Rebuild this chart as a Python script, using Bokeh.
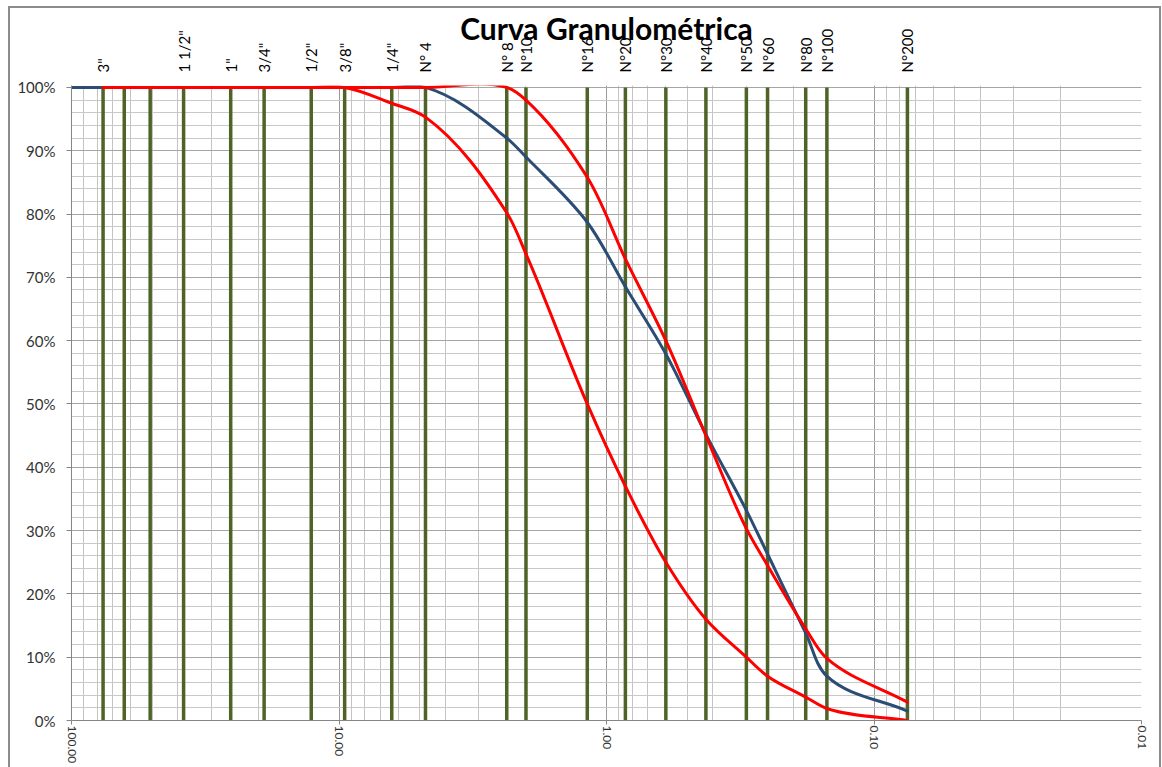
import numpy as np
from bokeh.plotting import figure
from bokeh.models import (Range1d, FixedTicker, LogAxis, PrintfTickFormatter,
                          NumeralTickFormatter, ColumnDataSource)
from bokeh.embed import file_html
from bokeh.resources import INLINE

# ---- data -------------------------------------------------------------
sieve_mm = [76.2, 63.5, 50.8, 38.1, 25.4, 19.05, 12.7, 9.525, 6.35, 4.75,
            2.36, 2.0, 1.18, 0.85, 0.6, 0.425, 0.3, 0.25, 0.18, 0.15, 0.075]
sieve_labels = ['3"', '', '', '1 1/2"', '1"', '3/4"', '1/2"', '3/8"', '1/4"', 'N° 4',
                'N° 8', 'N°10', 'N°16', 'N°20', 'N°30', 'N°40', 'N°50', 'N°60',
                'N°80', 'N°100', 'N°200']

sample_mm = [100.0, 76.2, 63.5, 50.8, 38.1, 25.4, 19.05, 12.7, 9.525, 6.35, 4.75,
             2.36, 2.0, 1.18, 0.85, 0.6, 0.425, 0.3, 0.25, 0.18, 0.15, 0.075]
sample_pct = [100, 100, 100, 100, 100, 100, 100, 100, 100, 100, 100,
              92, 89, 78.7, 68.5, 57.9, 45.2, 33.2, 26.3, 13.8, 7.0, 1.5]

limit_mm = sieve_mm
upper_pct = [100, 100, 100, 100, 100, 100, 100, 100, 100, 100,
             100, 98, 85.8, 72.9, 60, 45, 30.3, 24.5, 14.5, 9.8, 2.9]
lower_pct = [100, 100, 100, 100, 100, 100, 100, 100, 97.5, 95.3,
             80.2, 73.7, 50, 37, 25, 16, 10, 7, 3.7, 1.9, 0]

decades = [100, 10, 1, 0.1, 0.01]
pct_ticks = [0, 0.1, 0.2, 0.3, 0.4, 0.5, 0.6, 0.7, 0.8, 0.9, 1.0]

FONT = "Lato"
PX_DECADE = 267.5   # approx. screen pixels per decade (for smoothing only)
PX_UNIT = 633.0     # approx. screen pixels per 100 %


def smooth_segments(xs, ys):
    """Smoothed line as cubic Bezier segments: tangent = bisector of the
    neighbouring chords, control distance = 1/3 of the segment length."""
    sx = np.log10(np.asarray(xs, dtype=float)) * PX_DECADE
    sy = np.asarray(ys, dtype=float) / 100.0 * PX_UNIT
    P = np.column_stack([sx, sy])
    n = len(P)
    units = []
    for i in range(n - 1):
        v = P[i + 1] - P[i]
        L = np.hypot(*v)
        units.append(v / L if L > 0 else np.zeros(2))
    T = []
    for i in range(n):
        if i == 0:
            t = units[0]
        elif i == n - 1:
            t = units[-1]
        else:
            t = units[i - 1] + units[i]
        L = np.hypot(*t)
        T.append(t / L if L > 0 else np.zeros(2))
    d = dict(x0=[], y0=[], x1=[], y1=[], cx0=[], cy0=[], cx1=[], cy1=[])
    for i in range(n - 1):
        p1, p2 = P[i], P[i + 1]
        L = np.hypot(*(p2 - p1)) / 3.0
        c1 = p1 + T[i] * L
        c2 = p2 - T[i + 1] * L
        d["x0"].append(10 ** (p1[0] / PX_DECADE)); d["y0"].append(p1[1] / PX_UNIT)
        d["x1"].append(10 ** (p2[0] / PX_DECADE)); d["y1"].append(p2[1] / PX_UNIT)
        d["cx0"].append(10 ** (c1[0] / PX_DECADE)); d["cy0"].append(c1[1] / PX_UNIT)
        d["cx1"].append(10 ** (c2[0] / PX_DECADE)); d["cy1"].append(c2[1] / PX_UNIT)
    return ColumnDataSource(d)


p = figure(width=1162, height=767, x_axis_type="log",
           x_range=Range1d(100, 0.01), y_range=Range1d(0, 1.003),
           output_backend="svg", toolbar_location=None,
           min_border_left=71, min_border_right=21, min_border_top=85,
           min_border_bottom=47)
p.outline_line_color = None
p.background_fill_color = "white"
p.border_fill_color = "white"
p.border_fill_alpha = 0.0
# chart-area border (outside the plot frame), drawn as CSS background lines
p.styles = {
    "background-color": "white",
    "background-image": ("linear-gradient(#8C8C8C,#8C8C8C), "
                         "linear-gradient(#8C8C8C,#8C8C8C), "
                         "linear-gradient(#8C8C8C,#8C8C8C)"),
    "background-size": "1153px 2px, 2px 770px, 2px 770px",
    "background-position": "8px 6px, 8px 6px, 1159px 6px",
    "background-repeat": "no-repeat",
}

# x axis (bottom)
p.xaxis.ticker = FixedTicker(ticks=decades,
                             minor_ticks=[m * d for d in [10, 1, 0.1, 0.01] for m in range(2, 10)])
p.xaxis.formatter = PrintfTickFormatter(format="%.2f")
p.xaxis.major_label_orientation = "vertical"
p.xaxis.major_label_text_font = FONT
p.xaxis.major_label_text_font_size = "12px"
p.xaxis.major_label_text_color = "#333333"
p.xaxis.major_tick_out = 4
p.xaxis.major_tick_in = 0
p.xaxis.minor_tick_out = 0
p.xaxis.minor_tick_in = 0
p.xaxis.major_label_standoff = 1
p.xaxis.axis_line_color = "#868686"
p.xaxis.major_tick_line_color = "#868686"

# y axis
p.yaxis.ticker = FixedTicker(ticks=pct_ticks,
                             minor_ticks=[i / 50 for i in range(51)])
p.yaxis.formatter = NumeralTickFormatter(format="0%")
p.yaxis.major_label_text_font = FONT
p.yaxis.major_label_text_font_size = "15px"
p.yaxis.major_label_text_color = "#333333"
p.yaxis.major_tick_out = 5
p.yaxis.major_tick_in = 0
p.yaxis.minor_tick_out = 0
p.yaxis.minor_tick_in = 0
p.yaxis.major_label_standoff = 11
p.yaxis.axis_line_color = "#868686"
p.yaxis.major_tick_line_color = "#868686"

# grids
p.xgrid.grid_line_color = "#9A9A9A"
p.xgrid.minor_grid_line_color = "#C4C4C4"
p.ygrid.grid_line_color = "#A6A6A6"
p.ygrid.minor_grid_line_color = "#C8C8C8"

# top axis with sieve names, chart title as its label
top = LogAxis(ticker=FixedTicker(ticks=sieve_mm),
              major_label_overrides={s: l for s, l in zip(sieve_mm, sieve_labels)},
              major_label_orientation="vertical",
              major_label_text_font=FONT,
              major_label_text_font_size="15px",
              major_label_text_color="#000000",
              major_label_standoff=13,
              major_tick_out=0, major_tick_in=0,
              minor_tick_out=0, minor_tick_in=0,
              axis_line_color=None,
              axis_label="Curva Granulométrica",
              axis_label_text_font=FONT,
              axis_label_text_font_style="bold",
              axis_label_text_font_size="30px",
              axis_label_text_color="#000000",
              axis_label_standoff=-20)
p.add_layout(top, "above")

# sieve lines
p.segment(x0=sieve_mm, y0=[0] * len(sieve_mm), x1=sieve_mm, y1=[1] * len(sieve_mm),
          line_color="#4F6228", line_width=3.5)

# curves
for src, col in ((smooth_segments(sample_mm, sample_pct), "#2B4C74"),
                 (smooth_segments(limit_mm, upper_pct), "#FF0000"),
                 (smooth_segments(limit_mm, lower_pct), "#FF0000")):
    p.bezier(x0="x0", y0="y0", x1="x1", y1="y1", cx0="cx0", cy0="cy0",
             cx1="cx1", cy1="cy1", source=src,
             line_color=col, line_width=3, line_cap="round")

open("out.html", "w").write(file_html(p, INLINE))
